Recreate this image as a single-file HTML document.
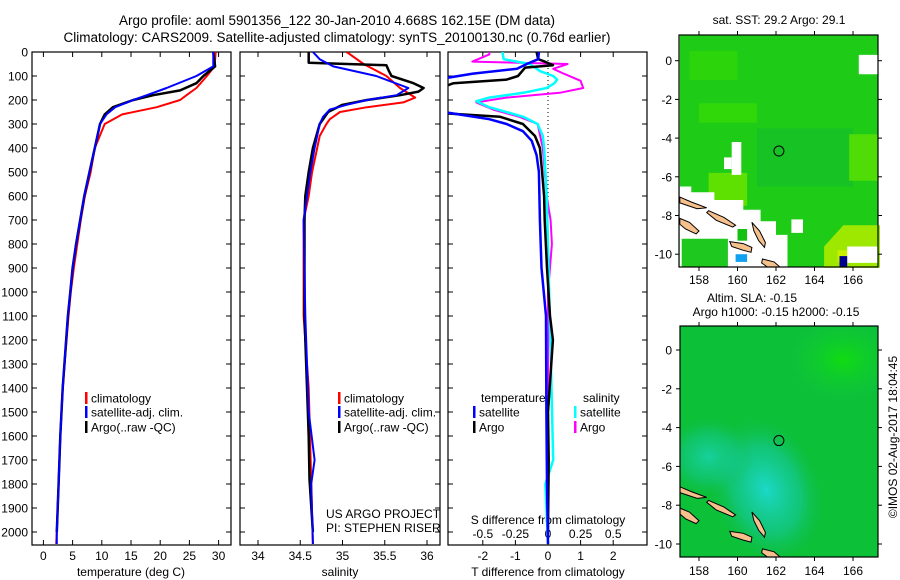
<!DOCTYPE html>
<html><head><meta charset="utf-8"><style>
html,body{margin:0;padding:0;background:#fff;}
svg{display:block;font-family:"Liberation Sans",sans-serif;}
text{fill:#000;}
</style></head><body>
<svg id="fig" width="900" height="580" viewBox="0 0 900 580" xmlns="http://www.w3.org/2000/svg">
<text x="337" y="25" font-size="13.5" text-anchor="middle">Argo profile: aoml 5901356_122 30-Jan-2010 4.668S 162.15E (DM data)</text>
<text x="337" y="42" font-size="13.5" text-anchor="middle">Climatology: CARS2009. Satellite-adjusted climatology: synTS_20100130.nc (0.76d earlier)</text>
<defs>
<clipPath id="c1"><rect x="32" y="52" width="199" height="493"/></clipPath>
<clipPath id="c2"><rect x="240" y="52" width="200" height="493"/></clipPath>
<clipPath id="c3"><rect x="448" y="52" width="199" height="493"/></clipPath>
<clipPath id="cm1"><rect x="679" y="35" width="199" height="232"/></clipPath>
<clipPath id="cm2"><rect x="680" y="326" width="198" height="231"/></clipPath>
<radialGradient id="cy" cx="0.5" cy="0.5" r="0.5"><stop offset="0" stop-color="#1cd8c8"/><stop offset="0.6" stop-color="#14c890" stop-opacity="0.7"/><stop offset="1" stop-color="#10c050" stop-opacity="0"/></radialGradient>
<radialGradient id="gr" cx="0.5" cy="0.5" r="0.5"><stop offset="0" stop-color="#10dc10"/><stop offset="1" stop-color="#10c840" stop-opacity="0"/></radialGradient>
</defs>
<g id="panels"></g>
<g id="maps"></g>
</svg>
<script>
// ---------- data ----------
const tempClimDepth=[0,60,100,150,180,200,230,260,300,400,500,600,700,800,900,1000,1100,1400,1600,1800,2000,2050];
const tempClim=[29.5,29.3,28.0,26.2,24.5,23.4,19.4,13.5,10.5,8.8,8.1,7.1,6.4,5.8,5.2,4.7,4.3,3.3,2.9,2.6,2.3,2.2];
const tempSatDepth=[0,60,100,150,180,200,230,260,300,400,500,600,700,800,900,1000,1100,1400,1600,1800,2000,2050];
const tempSat=[29.1,29.1,26.2,21.1,17.7,15.4,12.3,10.8,9.7,8.8,7.9,7.0,6.3,5.6,5.0,4.6,4.2,3.3,2.9,2.6,2.3,2.3];
const tempArgoDepth=[0,60,100,130,160,180,200,230,260,300,400,500,600,700,800,900,1000,1100,1400,1600,1800,2000];
const tempArgo=[29.1,29.4,27.4,26.2,23.4,18.8,15.4,11.9,10.5,9.7,8.8,7.9,7.0,6.3,5.6,5.0,4.6,4.2,3.3,2.9,2.6,2.3];

const salClimDepth=[0,50,100,150,190,210,230,250,280,300,350,400,500,600,700,1100,1400,2050];
const salClim=[35.05,35.25,35.52,35.68,35.86,35.72,35.29,34.97,34.85,34.81,34.73,34.70,34.64,34.60,34.54,34.54,34.60,34.65];
const salSatDepth=[0,30,60,100,150,180,200,220,240,270,300,400,500,600,700,1100,1500,1700,1800,2050];
const salSat=[34.65,34.73,34.89,35.40,35.78,35.64,35.29,35.05,34.85,34.77,34.73,34.67,34.62,34.58,34.54,34.56,34.60,34.67,34.63,34.65];
const salArgoDepth=[0,45,55,80,100,130,150,165,180,200,220,250,300,400,500,600,700,1100,1600,1780,2000];
const salArgo=[34.60,34.60,35.52,35.55,35.58,35.84,35.96,35.90,35.68,35.29,35.00,34.83,34.73,34.65,34.60,34.56,34.55,34.55,34.60,34.61,34.65];

const dTSatDepth=[0,30,50,70,90,110,250,280,300,330,370,430,500,700,900,1100,1500,1800,2050];
const dTSat=[-0.28,-0.3,-0.65,-0.95,-2.3,-3.2,-3.2,-1.8,-1.27,-0.77,-0.5,-0.35,-0.28,-0.25,-0.2,-0.06,-0.05,-0.03,0];
const dTArgoDepth=[0,30,40,55,65,100,115,130,145,255,270,300,350,400,500,600,700,900,1100,1200,1500,1700,2000];
const dTArgo=[-0.35,-0.3,-0.1,0.15,-0.7,-0.92,-1.27,-2.9,-3.2,-3.2,-1.47,-0.77,-0.4,-0.25,-0.18,-0.12,-0.1,-0.03,0.06,0.15,0.0,0.02,0.0];
const dSSatDepth=[0,30,50,80,100,115,130,150,170,190,205,230,250,270,300,350,400,600,800,1700,1800,2050];
const dSSat=[-0.35,-0.34,-0.14,-0.06,0.04,0.07,0.05,-0.01,-0.19,-0.45,-0.55,-0.45,-0.32,-0.19,-0.08,-0.04,-0.03,-0.01,0,0.04,-0.02,0];
const dSArgoDepth=[0,10,40,50,70,90,120,150,170,190,210,240,270,300,400,600,700,800,1000,2050];
const dSArgo=[-0.45,-0.45,-0.58,0.15,0.04,0.12,0.25,0.27,0.09,-0.32,-0.55,-0.42,-0.22,-0.08,-0.04,-0.01,0.02,0.03,0,0];

const depthTicks=[0,100,200,300,400,500,600,700,800,900,1000,1100,1200,1300,1400,1500,1600,1700,1800,1900,2000];
const tempTicks=[0,5,10,15,20,25,30];
const salTicks=["34","34.5","35","35.5","36"];
const dTTicks=[-2,-1,0,1,2];
const dSTickLabels=["-0.5","-0.25","0","0.25","0.5"];

// ---------- axes ----------
const NS="http://www.w3.org/2000/svg";
const yD=d=>52+0.24*d;
const xT=t=>43.4+t*5.84;
const xS=s=>258+(s-34)*84.5;
const xDT=t=>548+t*32.6;
const xDS=s=>548+s*130.4;
const P=document.getElementById('panels');
function mk(tag,attrs,parent){const e=document.createElementNS(NS,tag);for(const k in attrs)e.setAttribute(k,attrs[k]);(parent||P).appendChild(e);return e;}
function txt(x,y,s,anchor,size,parent){const e=mk('text',{x:x,y:y,'font-size':size||12,'text-anchor':anchor||'start'},parent);e.textContent=s;return e;}
function line(xs,ys,xf,color,w,clip,name){
  const pts=xs.map((v,i)=>xf(v).toFixed(1)+','+yD(ys[i]).toFixed(1)).join(' ');
  const e=mk('polyline',{points:pts,fill:'none',stroke:color,'stroke-width':w,'clip-path':'url(#'+clip+')','stroke-linejoin':'round'});
  
  
}
function frame(x0,x1,name){
  const r=mk('rect',{x:x0,y:52,width:x1-x0,height:493,fill:'none',stroke:'#000','stroke-width':1.2});
  
  
  depthTicks.forEach(d=>{mk('line',{x1:x0,x2:x0+5,y1:yD(d),y2:yD(d),stroke:'#000'});mk('line',{x1:x1,x2:x1-5,y1:yD(d),y2:yD(d),stroke:'#000'});});
}
// panel 1
frame(32,231,'temperature-panel-frame');
depthTicks.forEach(d=>{const t=txt(28,yD(d)+4.5,String(d),'end',12);});
tempTicks.forEach(t=>{const x=xT(t);mk('line',{x1:x,x2:x,y1:545,y2:540,stroke:'#000'});mk('line',{x1:x,x2:x,y1:52,y2:57,stroke:'#000'});const l=txt(x,560,String(t),'middle',12);});
let a=txt(131,576,'temperature (deg C)','middle',12);
line(tempClim,tempClimDepth,xT,'#f00',2,'c1','temp-climatology-line');
line(tempArgo,tempArgoDepth,xT,'#000',2.5,'c1','temp-argo-line');
line(tempSat,tempSatDepth,xT,'#00f',2,'c1','temp-satellite-line');
// panel 2
frame(240,440,'salinity-panel-frame');
salTicks.forEach(s=>{const x=xS(+s);mk('line',{x1:x,x2:x,y1:545,y2:540,stroke:'#000'});mk('line',{x1:x,x2:x,y1:52,y2:57,stroke:'#000'});const l=txt(x,560,s,'middle',12);});
a=txt(340,576,'salinity','middle',12);
line(salClim,salClimDepth,xS,'#f00',2,'c2','sal-climatology-line');
line(salArgo,salArgoDepth,xS,'#000',2.5,'c2','sal-argo-line');
line(salSat,salSatDepth,xS,'#00f',2,'c2','sal-satellite-line');
// panel 3
frame(448,647,'difference-panel-frame');
dTTicks.forEach(t=>{const x=xDT(t);mk('line',{x1:x,x2:x,y1:545,y2:540,stroke:'#000'});mk('line',{x1:x,x2:x,y1:52,y2:57,stroke:'#000'});const l=txt(x,560,String(t),'middle',12);});
dSTickLabels.forEach(s=>{const l=txt(xDS(+s),538,s,'middle',12);});
a=txt(548,524,'S difference from climatology','middle',12);
a=txt(548,576,'T difference from climatology','middle',12);
mk('line',{x1:548,x2:548,y1:52,y2:545,stroke:'#000','stroke-dasharray':'1,3'});
line(dSArgo,dSArgoDepth,xDS,'#f0f',2,'c3','sdiff-argo-line');
line(dSSat,dSSatDepth,xDS,'#0ff',2.5,'c3','sdiff-satellite-line');
line(dTArgo,dTArgoDepth,xDT,'#000',2.5,'c3','tdiff-argo-line');
line(dTSat,dTSatDepth,xDT,'#00f',2.5,'c3','tdiff-satellite-line');
// legends
function leg(x,y,color,label,name){mk('rect',{x:x,y:y-6,width:2.5,height:12,fill:color});const t=txt(x+6,y+4.5,label,'start',12);}
leg(85,398,'#f00','climatology','legend-climatology');
leg(85,412,'#00f','satellite-adj. clim.','legend-satellite-adj');
leg(85,427,'#000','Argo(..raw -QC)','legend-argo');
leg(338,398,'#f00','climatology','legend-climatology-2');
leg(338,412,'#00f','satellite-adj. clim.','legend-satellite-adj-2');
leg(338,427,'#000','Argo(..raw -QC)','legend-argo-2');
a=txt(481,402,'temperature','start',12);
a=txt(583,402,'salinity','start',12);
leg(473,412,'#00f','satellite','legend-t-satellite');
leg(473,427,'#000','Argo','legend-t-argo');
leg(574,412,'#0ff','satellite','legend-s-satellite');
leg(574,427,'#f0f','Argo','legend-s-argo');
a=txt(326,518,'US ARGO PROJECT','start',12);
a=txt(326,532,'PI: STEPHEN RISER','start',12);

// ---------- maps ----------
const M=document.getElementById('maps');
const mlon=l=>679.75+(l-157)*19.25;
const m1lat=l=>60.7-l*19.35;
const m2lat=l=>350-l*19.4;
function poly(pts,latf,fill,stroke,clip,name){
  const e=mk('polygon',{points:pts.map(p=>mlon(p[0]).toFixed(1)+','+latf(p[1]).toFixed(1)).join(' '),fill:fill,stroke:stroke||'none','stroke-width':1,'clip-path':'url(#'+clip+')'},M);
  return e;
}
function box(l0,l1,a0,a1,latf,fill,clip,name){return poly([[l0,a0],[l1,a0],[l1,a1],[l0,a1]],latf,fill,null,clip,name);}
const islands=[
 [[157,-7.05],[157.6,-7.3],[158.4,-7.6],[157.9,-7.65],[157,-7.35]],
 [[158.5,-7.75],[159.3,-8.1],[159.9,-8.5],[159.75,-8.6],[158.9,-8.25],[158.4,-7.85]],
 [[157,-8.15],[157.5,-8.35],[158.0,-8.8],[157.85,-8.95],[157.3,-8.7],[157,-8.45]],
 [[160.75,-8.35],[161.15,-8.8],[161.45,-9.4],[161.4,-9.65],[161.1,-9.3],[160.85,-8.8]],
 [[159.6,-9.35],[160.3,-9.45],[160.75,-9.65],[160.7,-9.9],[160.3,-9.8],[159.7,-9.6]],
 [[161.3,-10.25],[161.9,-10.4],[162.3,-10.75],[161.6,-10.7],[161.25,-10.45]]
];
// map 1 (SST)
box(157,167.4,1.4,-10.7,m1lat,'#1ecc18','cm1','sst-map-background');
box(157.5,160,0.5,-1,m1lat,'#2cd40c','cm1','sst-patch');
box(158,161,-2.2,-3.2,m1lat,'#30d80a','cm1','sst-patch');
box(161,166,-3.5,-6.5,m1lat,'#16c224','cm1','sst-patch');
box(158.5,160.5,-5.8,-7.5,m1lat,'#5ee000','cm1','sst-patch');
box(165.8,167.4,-3.8,-6.2,m1lat,'#50dc06','cm1','sst-patch');
poly([[164.5,-9.6],[165.5,-8.5],[167.4,-8.5],[167.4,-10.7],[164.5,-10.7]],m1lat,'#9ee800','cm1','sst-warm-patch');
box(165.2,166,-9.8,-10.4,m1lat,'#c8f000','cm1','sst-warm-patch');
box(166.3,167.4,0.3,-0.7,m1lat,'#fff','cm1','sst-nodata');
box(159.7,160.2,-4.2,-5.9,m1lat,'#fff','cm1','sst-nodata');
box(159.3,159.7,-5,-5.6,m1lat,'#fff','cm1','sst-nodata');
poly([[157,-6.5],[157.6,-6.5],[157.6,-6.8],[158.8,-6.8],[158.8,-7.2],[160.3,-7.2],[160.3,-7.7],[161.2,-7.7],[161.2,-8.3],[162,-8.3],[162,-9],[162.6,-9],[162.6,-10.7],[157,-10.7]],m1lat,'#fff','cm1','sst-nodata-land');
box(162.8,163.4,-8.2,-8.9,m1lat,'#fff','cm1','sst-nodata');
box(157.1,159.5,-9.2,-10.7,m1lat,'#1ec81e','cm1','sst-patch');
box(160,160.5,-8.7,-9.3,m1lat,'#14c014','cm1','sst-patch');
box(159.9,160.5,-10,-10.4,m1lat,'#10a0f0','cm1','sst-patch');
box(165.7,167.3,-9.6,-10.45,m1lat,'#fff','cm1','sst-nodata');
box(165.3,165.7,-10.1,-10.7,m1lat,'#000090','cm1','sst-patch');
islands.forEach(p=>poly(p,m1lat,'#f5c08c','#000','cm1','island'));
let c=mk('circle',{cx:mlon(162.15),cy:m1lat(-4.668),r:5,fill:'none',stroke:'#000','stroke-width':1},M);

mk('rect',{x:679,y:35,width:199,height:232,fill:'none',stroke:'#000','stroke-width':1.2},M);
// map 2 (SLA)
box(157,167.4,1.4,-10.7,m2lat,'#0cc038','cm2','sla-map-background');
mk('ellipse',{cx:mlon(165.5),cy:m2lat(-0.5),rx:60,ry:45,fill:'url(#gr)','clip-path':'url(#cm2)'},M);
mk('ellipse',{cx:mlon(161.5),cy:m2lat(-7.2),rx:55,ry:75,fill:'url(#cy)','clip-path':'url(#cm2)',transform:'rotate(-20 '+mlon(161.5)+' '+m2lat(-7.2)+')'},M);
mk('ellipse',{cx:mlon(158.5),cy:m2lat(-5.5),rx:45,ry:40,fill:'url(#cy)','clip-path':'url(#cm2)','opacity':0.7},M);
islands.forEach(p=>poly(p,m2lat,'#f5c08c','#000','cm2','island'));
c=mk('circle',{cx:mlon(162.15),cy:m2lat(-4.668),r:5,fill:'none',stroke:'#000','stroke-width':1},M);

mk('rect',{x:680,y:326,width:198,height:231,fill:'none',stroke:'#000','stroke-width':1.2},M);
// map ticks/labels
[158,160,162,164,166].forEach(l=>{const x=mlon(l);
 mk('line',{x1:x,x2:x,y1:267,y2:271,stroke:'#000'},M);mk('line',{x1:x,x2:x,y1:35,y2:31,stroke:'#000'},M);
 mk('line',{x1:x,x2:x,y1:557,y2:561,stroke:'#000'},M);mk('line',{x1:x,x2:x,y1:326,y2:322,stroke:'#000'},M);
 let t=txt(x,284,String(l),'middle',12,M);
 t=txt(x,575,String(l),'middle',12,M);});
[0,-2,-4,-6,-8,-10].forEach(l=>{
 let y=m1lat(l);mk('line',{x1:679,x2:675,y1:y,y2:y,stroke:'#000'},M);mk('line',{x1:878,x2:882,y1:y,y2:y,stroke:'#000'},M);
 let t=txt(672,y+4.5,String(l),'end',12,M);
 y=m2lat(l);mk('line',{x1:680,x2:676,y1:y,y2:y,stroke:'#000'},M);mk('line',{x1:878,x2:882,y1:y,y2:y,stroke:'#000'},M);
 t=txt(672,y+4.5,String(l),'end',12,M);});
a=txt(779,24,'sat. SST: 29.2 Argo: 29.1','middle',12,M);
a=txt(752,302,'Altim. SLA: -0.15','middle',12,M);
a=txt(776,316,'Argo h1000: -0.15 h2000: -0.15','middle',12,M);
a=txt(0,0,'©IMOS 02-Aug-2017 18:04:45','middle',12,M);a.setAttribute('transform','translate(897,437) rotate(-90)');
</script>
</body></html>
